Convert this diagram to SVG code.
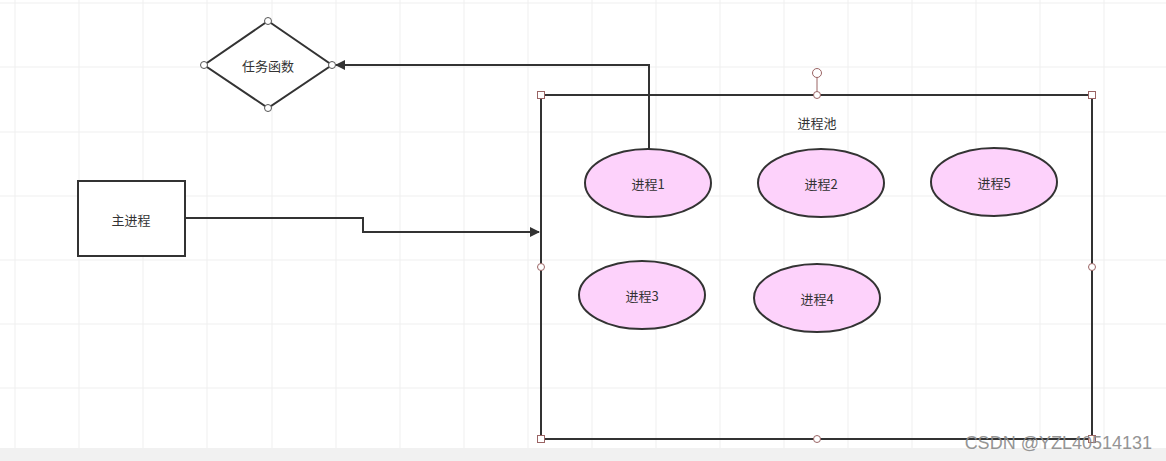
<svg xmlns="http://www.w3.org/2000/svg" width="1166" height="461" viewBox="0 0 1166 461">
<defs>
<style>
.grid line{stroke:#efefef;stroke-width:1}
.shape{fill:#fff;stroke:#333;stroke-width:2}
.frame{fill:none;stroke:#333;stroke-width:2}
.ell{fill:#fdd2fb;stroke:#333;stroke-width:2}
.txt{font-family:"Noto Sans CJK SC","Liberation Sans",sans-serif;font-size:13px;fill:#333;text-anchor:middle;dominant-baseline:central}
.pt{fill:#fff;stroke:#555;stroke-width:1}
.hd{fill:#fff;stroke:#9a6464;stroke-width:1}
.conn{fill:none;stroke:#333;stroke-width:2}
</style>
<marker id="arr" viewBox="0 0 10 10" refX="9" refY="5" markerWidth="5.5" markerHeight="5" orient="auto" markerUnits="strokeWidth">
<path d="M0,0 L10,5 L0,10 z" fill="#333"/>
</marker>
</defs>
<rect width="1166" height="461" fill="#fff"/>
<g class="grid">
<line x1="15" y1="0" x2="15" y2="448"/><line x1="79" y1="0" x2="79" y2="448"/><line x1="143" y1="0" x2="143" y2="448"/><line x1="207" y1="0" x2="207" y2="448"/><line x1="272" y1="0" x2="272" y2="448"/><line x1="336" y1="0" x2="336" y2="448"/><line x1="400" y1="0" x2="400" y2="448"/><line x1="464" y1="0" x2="464" y2="448"/><line x1="528" y1="0" x2="528" y2="448"/><line x1="592" y1="0" x2="592" y2="448"/><line x1="656" y1="0" x2="656" y2="448"/><line x1="720" y1="0" x2="720" y2="448"/><line x1="784" y1="0" x2="784" y2="448"/><line x1="848" y1="0" x2="848" y2="448"/><line x1="912" y1="0" x2="912" y2="448"/><line x1="976" y1="0" x2="976" y2="448"/><line x1="1040" y1="0" x2="1040" y2="448"/><line x1="1104" y1="0" x2="1104" y2="448"/>
<line x1="0" y1="3" x2="1166" y2="3"/><line x1="0" y1="67" x2="1166" y2="67"/><line x1="0" y1="132" x2="1166" y2="132"/><line x1="0" y1="196" x2="1166" y2="196"/><line x1="0" y1="260" x2="1166" y2="260"/><line x1="0" y1="324" x2="1166" y2="324"/><line x1="0" y1="388" x2="1166" y2="388"/>
</g>
<rect x="0" y="448" width="1166" height="13" fill="#f1f1f1"/>
<g id="pool">
<rect class="frame" x="541" y="95" width="551" height="344"/>
<text class="txt" x="817" y="122">进程池</text>
</g>
<g id="connectors">
<polyline class="conn" points="649,149 649,65 336,65" marker-end="url(#arr)"/>
<polyline class="conn" points="185,218 363,218 363,232 539,232" marker-end="url(#arr)"/>
</g>
<g id="pool-handles">
<line x1="817" y1="77" x2="817" y2="95" stroke="#9a6464" stroke-width="1"/>
<circle class="hd" cx="817" cy="73" r="4.5"/>
<rect class="hd" x="537.5" y="91.5" width="7" height="7"/>
<rect class="hd" x="1088.5" y="91.5" width="7" height="7"/>
<rect class="hd" x="537.5" y="435.5" width="7" height="7"/>
<rect class="hd" x="1088.5" y="435.5" width="7" height="7"/>
<circle class="hd" cx="817" cy="95" r="3.5"/>
<circle class="hd" cx="541" cy="267" r="3.5"/>
<circle class="hd" cx="1092" cy="267" r="3.5"/>
<circle class="hd" cx="817" cy="439" r="3.5"/>
</g>
<g id="task">
<polygon class="shape" points="268,21 332,65 268,108 204,65"/>
<text class="txt" x="268" y="65">任务函数</text>
<circle class="pt" cx="268" cy="21" r="3.5"/>
<circle class="pt" cx="332" cy="65" r="3.5"/>
<circle class="pt" cx="268" cy="108" r="3.5"/>
<circle class="pt" cx="204" cy="65" r="3.5"/>
</g>
<g id="main">
<rect class="shape" x="78" y="181" width="107" height="75"/>
<text class="txt" x="131" y="219">主进程</text>
</g>
<g id="p1"><ellipse class="ell" cx="648" cy="183" rx="63" ry="34"/><text class="txt" x="648" y="183">进程1</text></g>
<g id="p2"><ellipse class="ell" cx="821" cy="183" rx="63" ry="34"/><text class="txt" x="821" y="183">进程2</text></g>
<g id="p5"><ellipse class="ell" cx="994" cy="182" rx="63" ry="34"/><text class="txt" x="994" y="182">进程5</text></g>
<g id="p3"><ellipse class="ell" cx="642" cy="295" rx="63" ry="34"/><text class="txt" x="642" y="295">进程3</text></g>
<g id="p4"><ellipse class="ell" cx="817" cy="298" rx="63" ry="34"/><text class="txt" x="817" y="298">进程4</text></g>
<text x="1152" y="449" font-family="'Liberation Sans',sans-serif" font-size="18" fill="#8a8a8a" text-anchor="end" opacity="0.9">CSDN @YZL40514131</text>
</svg>
